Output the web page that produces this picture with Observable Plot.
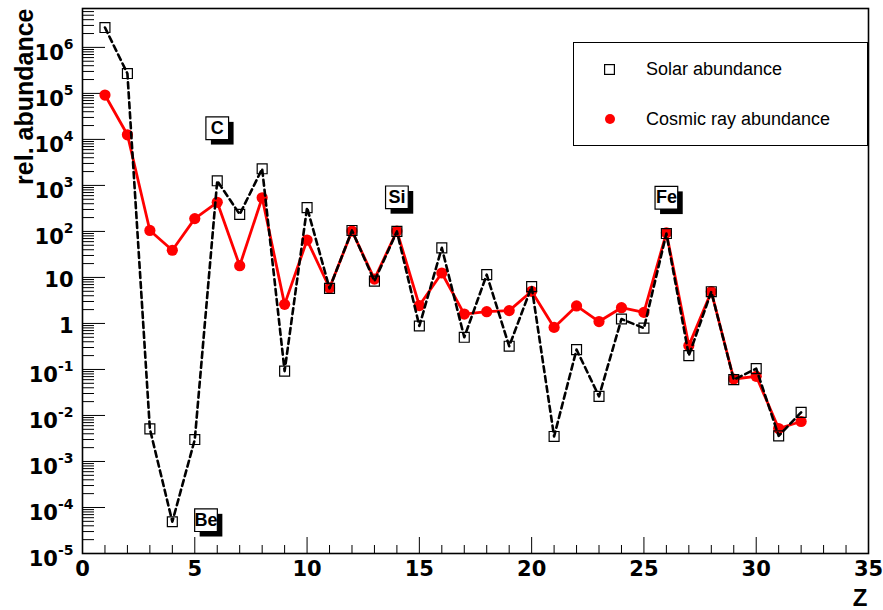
<!DOCTYPE html>
<html>
<head>
<meta charset="utf-8">
<script src="https://cdn.jsdelivr.net/npm/d3@7"></script>
<script src="https://cdn.jsdelivr.net/npm/@observablehq/plot@0.6"></script>
<style>
  body { margin: 0; background: #fff; }
  #wrap { position: relative; width: 883px; height: 610px; background: #fff; }
  #legend { position: absolute; left: 573px; top: 42px; width: 295px; height: 104px; border: 1px solid #000;
            box-sizing: border-box; background: #fff; font-family: "Liberation Sans", Arial, sans-serif; font-size: 18px; color: #000; }
  #legend .t { position: absolute; left: 72px; line-height: 20px; white-space: nowrap; }
  #legend svg { position: absolute; overflow: visible; }
</style>
</head>
<body>
<div id="wrap"></div>
<script>
// ---- data ----
const Z = [1,2,3,4,5,6,7,8,9,10,11,12,13,14,15,16,17,18,19,20,21,22,23,24,25,26,27,28,29,30,31,32];
const solar = [2.7e6, 2.7e5, 5.1e-3, 4.9e-5, 3.0e-3, 1260, 235, 2300, 0.092, 330, 5.8, 105, 8.3, 100, 0.88, 44,
               0.50, 11.5, 0.32, 6.3, 0.0035, 0.27, 0.026, 1.25, 0.79, 90, 0.20, 4.9, 0.060, 0.104, 0.0036, 0.0117];
const cosmic = [9.2e4, 1.26e4, 105, 39, 190, 430, 18, 540, 2.6, 65, 5.9, 102, 9.2, 102, 2.45, 12.5,
                1.6, 1.8, 1.9, 5.0, 0.82, 2.4, 1.1, 2.2, 1.74, 93, 0.33, 4.9, 0.062, 0.071, 0.0052, 0.0074];
const yTicks = [1e-5, 1e-4, 1e-3, 1e-2, 1e-1, 1, 10, 1e2, 1e3, 1e4, 1e5, 1e6];
const yTickLabels = ["10^-5","10^-4","10^-3","10^-2","10^-1","1","10","10^2","10^3","10^4","10^5","10^6"];
const xTicks = [0, 5, 10, 15, 20, 25, 30, 35];
const labelText = ["C", "Si", "Fe", "Be"];
const labelZ = [6, 14, 26, 5.5];
const labelY = [1.75e4, 550, 540, 5.3e-5];
const legendLabels = ["Solar abundance", "Cosmic ray abundance"];
const xTitle = "Z";
const yTitle = "rel. abundance";

// ---- derived tables ----
const solarData = Z.map((z, i) => ({Z: z, v: solar[i]}));
const cosmicData = Z.map((z, i) => ({Z: z, v: cosmic[i]}));
const labels = labelText.map((t, i) => ({t, x: labelZ[i], y: labelY[i]}));
const yMax = 7e6;
const yMinor = [];
for (let e = -5; e <= 6; e++) for (let k = 2; k <= 9; k++) { const v = k * Math.pow(10, e); if (v < yMax) yMinor.push(v); }
const xMinor = d3.range(0, 36).filter(d => d % 5 !== 0);

const W = 883, H = 610, mL = 82, mR = 15, mT = 8, mB = 57;
const plotW = W - mL - mR, plotH = H - mT - mB;
const tickFont = "DejaVu Sans, Liberation Sans, sans-serif";

const chart = Plot.plot({
  width: W, height: H,
  marginLeft: mL, marginRight: mR, marginTop: mT, marginBottom: mB,
  style: {background: "#fff", color: "#000"},
  x: {domain: [0, 35]},
  y: {type: "log", domain: [1e-5, yMax]},
  marks: [
    Plot.tickY(yTicks, {y: d => d, stroke: "#000", strokeWidth: 1, insetRight: plotW - 23}),
    Plot.tickY(yMinor, {y: d => d, stroke: "#000", strokeWidth: 1, insetRight: plotW - 12}),
    Plot.tickX(xTicks, {x: d => d, stroke: "#000", strokeWidth: 1, insetTop: plotH - 16}),
    Plot.tickX(xMinor, {x: d => d, stroke: "#000", strokeWidth: 1, insetTop: plotH - 8}),
    Plot.frame({stroke: "#000", strokeWidth: 1.6}),
    Plot.axisY({ticks: yTicks, tickSize: 0, tickPadding: 9, dy: 3,
      tickFormat: d => yTickLabels[yTicks.indexOf(d)], fontSize: 21, fontWeight: "bold", fontFamily: tickFont, label: null}),
    Plot.axisX({ticks: xTicks, tickSize: 0, tickPadding: 8,
      tickFormat: d => String(d), fontSize: 21, fontWeight: "bold", fontFamily: tickFont, label: null}),
    Plot.text([yTitle], {frameAnchor: "top-left", text: d => d, rotate: -90, textAnchor: "end", lineAnchor: "middle",
      dx: -58, dy: 0, fontSize: 25, fontWeight: "bold", fontFamily: "Liberation Sans, Arial, sans-serif"}),
    Plot.text([xTitle], {frameAnchor: "bottom-right", text: d => d, textAnchor: "end", lineAnchor: "middle",
      dx: -1, dy: 45, fontSize: 24, fontWeight: "bold", fontFamily: "Liberation Sans, Arial, sans-serif"}),
    // cosmic rays
    Plot.line(cosmicData, {x: "Z", y: "v", stroke: "#ff0000", strokeWidth: 2.8}),
    Plot.dot(cosmicData, {x: "Z", y: "v", fill: "#ff0000", r: 5.6, stroke: "none"}),
    // solar
    Plot.line(solarData, {x: "Z", y: "v", stroke: "#000", strokeWidth: 2.6, strokeDasharray: "6,4"}),
    Plot.dot(solarData, {x: "Z", y: "v", symbol: "square", r: 5.6, fill: "none", stroke: "#000", strokeWidth: 1.2}),
    // element label boxes
    Plot.dot(labels, {x: "x", y: "y", symbol: "square", r: 12.8, fill: "#000", stroke: "none", dx: 5, dy: 5}),
    Plot.dot(labels, {x: "x", y: "y", symbol: "square", r: 12.8, fill: "#fff", stroke: "#000", strokeWidth: 1.2}),
    Plot.text(labels, {x: "x", y: "y", text: "t", fontSize: 18, fontWeight: "bold", fill: "#000",
      fontFamily: "Liberation Sans, Arial, sans-serif"})
  ]
});

// superscripts for the decade labels
d3.select(chart).selectAll('g[aria-label="y-axis tick label"] text').each(function() {
  const s = this.textContent;
  if (!s.includes("^")) return;
  const [b, e] = s.split("^");
  const t = d3.select(this);
  t.text(null);
  t.append("tspan").attr("dy", 3).text(b);
  t.append("tspan").attr("dy", -11).attr("font-size", 14).text(e);
});

const wrap = document.getElementById("wrap");
wrap.appendChild(chart);

// legend
const leg = document.createElement("div");
leg.id = "legend";
leg.innerHTML = `
  <svg style="left:30px;top:21px" width="11" height="11"><rect x="0.6" y="0.6" width="9.8" height="9.8" fill="none" stroke="#000" stroke-width="1.2"/></svg>
  <div class="t" style="top:16px">${legendLabels[0]}</div>
  <svg style="left:31px;top:71px" width="10" height="10"><circle cx="5" cy="5" r="5" fill="#ff0000"/></svg>
  <div class="t" style="top:66px">${legendLabels[1]}</div>`;
wrap.appendChild(leg);
</script>
</body>
</html>
